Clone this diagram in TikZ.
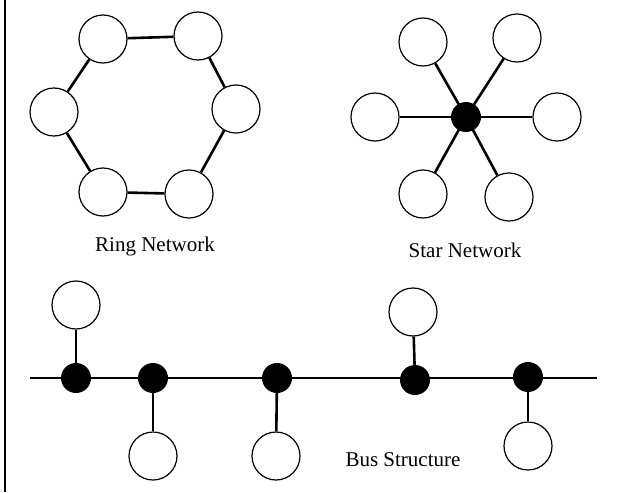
\documentclass[tikz,border=0pt]{standalone}
\usepackage{fontspec}
\setmainfont{Liberation Serif}
\begin{document}
\begin{tikzpicture}[x=1pt,y=-1pt,
  station/.style={circle,draw,line width=1.2pt,minimum size=48pt,inner sep=0pt,fill=white},
  hub/.style={circle,fill=black,minimum size=30pt,inner sep=0pt},
  link/.style={line width=2.6pt},
  lbl/.style={font=\fontsize{21}{24}\selectfont,inner sep=0pt}]
\useasboundingbox (0,0) rectangle (620,492);
\draw[line width=2.4pt] (5,0) coordinate (b1) -- (5,492) coordinate (b2);
% Ring network
\node[station] (r1) at (103,39) {};
\node[station] (r2) at (198,36) {};
\node[station] (r3) at (236,109) {};
\node[station] (r4) at (189,194) {};
\node[station] (r5) at (103,192) {};
\node[station] (r6) at (54,112) {};
\draw[link] (r1) -- (r2);
\draw[link] (r2) -- (r3);
\draw[link] (r3) -- (r4);
\draw[link] (r4) -- (r5);
\draw[link] (r5) -- (r6);
\draw[link] (r6) -- (r1);
\node[lbl] (ringlbl) at (155,246) {Ring Network};
% Star network
\node[station] (s1) at (423,42) {};
\node[station] (s2) at (517,38) {};
\node[station] (s3) at (557,117) {};
\node[station] (s4) at (509,197) {};
\node[station] (s5) at (423,194) {};
\node[station] (s6) at (375,117) {};
\coordinate (hc) at (466,117);
\foreach \s in {s1,s2,s3,s4,s5,s6} \draw[link] (hc) -- (\s);
\node[hub] (sh) at (hc) {};
\node[lbl] (starlbl) at (465,250) {Star Network};
% Bus structure
\coordinate (busL) at (30,378);
\coordinate (busR) at (597,378);
\draw[link] (busL) -- (busR);
\node[hub] (b1n) at (76,378) {};
\node[hub] (b2n) at (153,378) {};
\node[hub] (b3n) at (277,378) {};
\node[hub] (b4n) at (415,380) {};
\node[hub] (b5n) at (528,377) {};
\node[station] (c1) at (76,305) {};
\node[station] (c2) at (153,456) {};
\node[station] (c3) at (276,456) {};
\node[station] (c4) at (413,312) {};
\node[station] (c5) at (528,446) {};
\draw[link] (b1n.center) -- (c1);
\draw[link] (b2n.center) -- (c2);
\draw[link] (b3n.center) -- (c3);
\draw[link] (b4n.center) -- (c4);
\draw[link] (b5n.center) -- (c5);
\node[lbl] (buslbl) at (403,460) {Bus Structure};
\end{tikzpicture}
\end{document}
